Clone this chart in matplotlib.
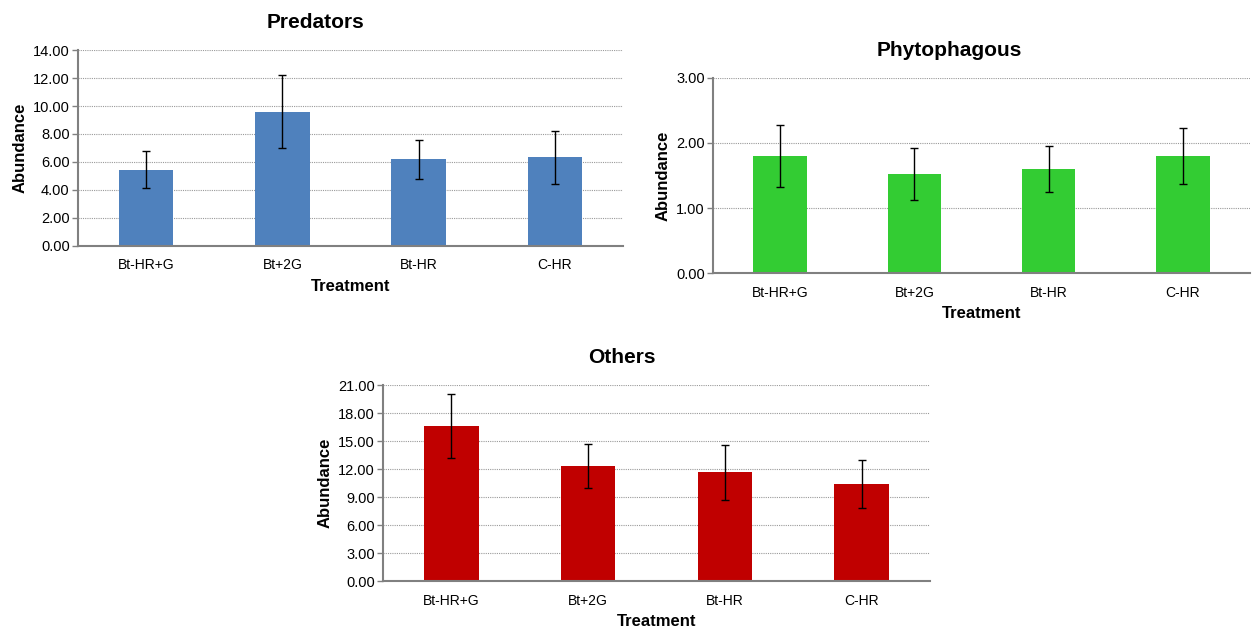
import matplotlib
matplotlib.use("Agg")
import matplotlib.pyplot as plt
from matplotlib.ticker import FormatStrFormatter

plt.rcParams["font.family"] = ["Liberation Sans Narrow", "Liberation Sans", "DejaVu Sans"]

# ── data ────────────────────────────────────────────────────────────────────
treatments = ["Bt-HR+G", "Bt+2G", "Bt-HR", "C-HR"]

predators_mean = [5.45, 9.60, 6.18, 6.33]
predators_err = [1.30, 2.60, 1.42, 1.88]

phyto_mean = [1.80, 1.53, 1.60, 1.80]
phyto_err = [0.48, 0.40, 0.36, 0.43]

others_mean = [16.62, 12.35, 11.65, 10.37]
others_err = [3.45, 2.35, 2.98, 2.55]

panels = [
    # title, means, errors, colour, ymax, step, axes rect, title x
    ("Predators", predators_mean, predators_err, "#4F81BD", 14, 2,
     [0.0623, 0.6114, 0.4353, 0.3096], 0.435),
    ("Phytophagous", phyto_mean, phyto_err, "#33CC33", 3, 1,
     [0.5695, 0.5687, 0.4289, 0.3081], 0.44),
    ("Others", others_mean, others_err, "#C00000", 21, 3,
     [0.3059, 0.0821, 0.4369, 0.3096], 0.437),
]


def draw_panel(fig, title, means, errs, color, ymax, step, rect, tx):
    ax = fig.add_axes(rect)
    x = range(len(treatments))
    ax.bar(x, means, width=0.4, color=color, zorder=2)
    ax.errorbar(x, means, yerr=errs, fmt="none", ecolor="black",
                elinewidth=1, capsize=3, capthick=1, zorder=3)
    ax.set_xlim(-0.5, len(treatments) - 0.5)
    ax.set_ylim(0, ymax)
    ax.set_yticks([i * step for i in range(int(ymax / step) + 1)])
    ax.yaxis.set_major_formatter(FormatStrFormatter("%.2f"))
    ax.set_xticks(list(x))
    ax.set_xticklabels(treatments)
    ax.tick_params(axis="x", length=0, pad=9, labelsize=10)
    ax.tick_params(axis="y", length=4, width=1, color="#808080",
                   labelsize=10.5, pad=2)
    ax.grid(axis="y", color="#9a9a9a", linestyle=(0, (1, 1)), linewidth=0.8,
            zorder=0)
    for side in ("top", "right"):
        ax.spines[side].set_visible(False)
    for side in ("left", "bottom"):
        ax.spines[side].set_color("#808080")
        ax.spines[side].set_linewidth(1.5)
    ax.set_title(title, fontsize=15, fontweight="bold", pad=16, x=tx)
    ax.set_xlabel("Treatment", fontsize=12, fontweight="bold", labelpad=5)
    ax.set_ylabel("Abundance", fontsize=12, fontweight="bold", labelpad=4)
    return ax


fig = plt.figure(figsize=(12.52, 6.33), dpi=100)
for p in panels:
    draw_panel(fig, *p)
fig.savefig("out.png", dpi=100, facecolor="white")
